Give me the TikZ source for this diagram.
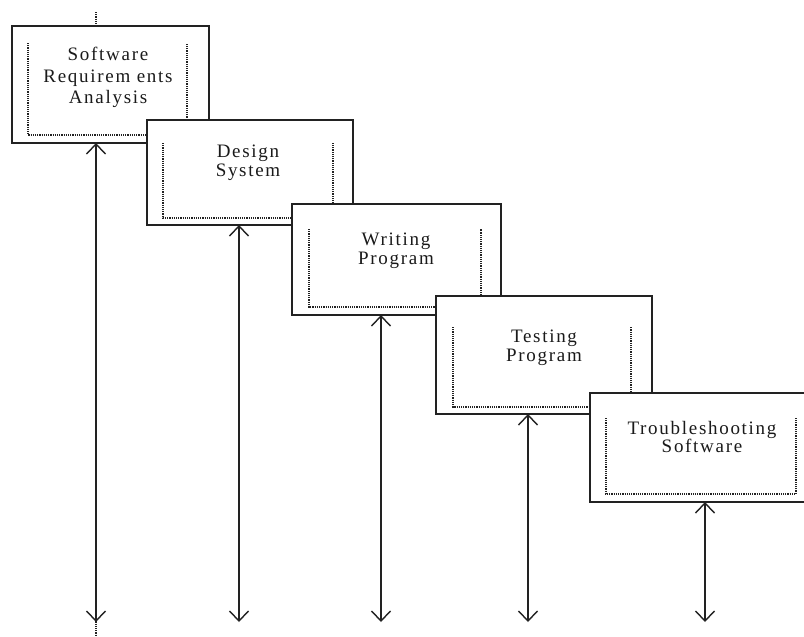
\documentclass[tikz,border=0pt]{standalone}
\usepackage{fontspec}
\setmainfont{Liberation Serif}[LetterSpace=9]
\usetikzlibrary{arrows.meta}
\definecolor{edge}{HTML}{222222}
\definecolor{ink}{HTML}{1A1A1A}
\begin{document}
\begin{tikzpicture}[x=1pt,y=-1pt,
  box/.style={draw=edge, line width=1.5pt, fill=white, rectangle, anchor=north west, inner sep=0pt, outer sep=0pt},
  ufr/.style={rectangle, anchor=north west, inner sep=0pt, outer sep=0pt},
  dotline/.style={draw=edge, line width=1.2pt, densely dotted},
  lbl/.style={font=\fontsize{19}{19}\selectfont, align=center, anchor=north, inner sep=0pt, text=ink},
  dbl/.style={draw=edge, line width=1.4pt, {Straight Barb[length=10pt,width=19pt]}-{Straight Barb[length=10pt,width=19pt]}}]
\useasboundingbox (0,0) rectangle (804,637);
\clip (0,0) rectangle (804,637);
\fill[white] (0,0) rectangle (804,637);
% dotted guide line
\coordinate (g0) at (96,12);
\coordinate (g1) at (96,637);
\draw[dotline] (g0) -- (g1);
% box 1
\node[box, minimum width=197pt, minimum height=117pt] (b1) at (12,26) {};
\node[ufr, minimum width=159pt, minimum height=92pt] (i1) at (28,43) {};
\draw[dotline] (i1.north west) -- (i1.south west) -- (i1.south east) -- (i1.north east);
\node[lbl, font=\fontsize{19}{21.5}\selectfont] (t1) at (108,47) {Software\\Requirem ents\\Analysis};
% box 2
\node[box, minimum width=206pt, minimum height=105pt] (b2) at (147,120) {};
\node[ufr, minimum width=170pt, minimum height=75pt] (i2) at (163,143) {};
\draw[dotline] (i2.north west) -- (i2.south west) -- (i2.south east) -- (i2.north east);
\node[lbl] (t2) at (248,145) {Design\\System};
% box 3
\node[box, minimum width=209pt, minimum height=111pt] (b3) at (292,204) {};
\node[ufr, minimum width=172pt, minimum height=78pt] (i3) at (309,229) {};
\draw[dotline] (i3.north west) -- (i3.south west) -- (i3.south east) -- (i3.north east);
\node[lbl] (t3) at (396,233) {Writing\\Program};
% box 4
\node[box, minimum width=216pt, minimum height=118pt] (b4) at (436,296) {};
\node[ufr, minimum width=178pt, minimum height=80pt] (i4) at (453,327) {};
\draw[dotline] (i4.north west) -- (i4.south west) -- (i4.south east) -- (i4.north east);
\node[lbl] (t4) at (544,330) {Testing\\Program};
% box 5
\node[box, minimum width=225pt, minimum height=109pt] (b5) at (590,393) {};
\node[ufr, minimum width=190pt, minimum height=76pt] (i5) at (606,418) {};
\draw[dotline] (i5.north west) -- (i5.south west) -- (i5.south east) -- (i5.north east);
\node[lbl, font=\fontsize{19}{18}\selectfont] (t5) at (702,421) {Troubleshooting\\Software};
% arrow ends
\coordinate (e1) at (96,622);
\coordinate (e2) at (239,622);
\coordinate (e3) at (381,622);
\coordinate (e4) at (528,622);
\coordinate (e5) at (705,622);
\draw[dbl] (b1.south -| e1) -- (e1);
\draw[dbl] (b2.south -| e2) -- (e2);
\draw[dbl] (b3.south -| e3) -- (e3);
\draw[dbl] (b4.south -| e4) -- (e4);
\draw[dbl] (b5.south -| e5) -- (e5);
\end{tikzpicture}
\end{document}
